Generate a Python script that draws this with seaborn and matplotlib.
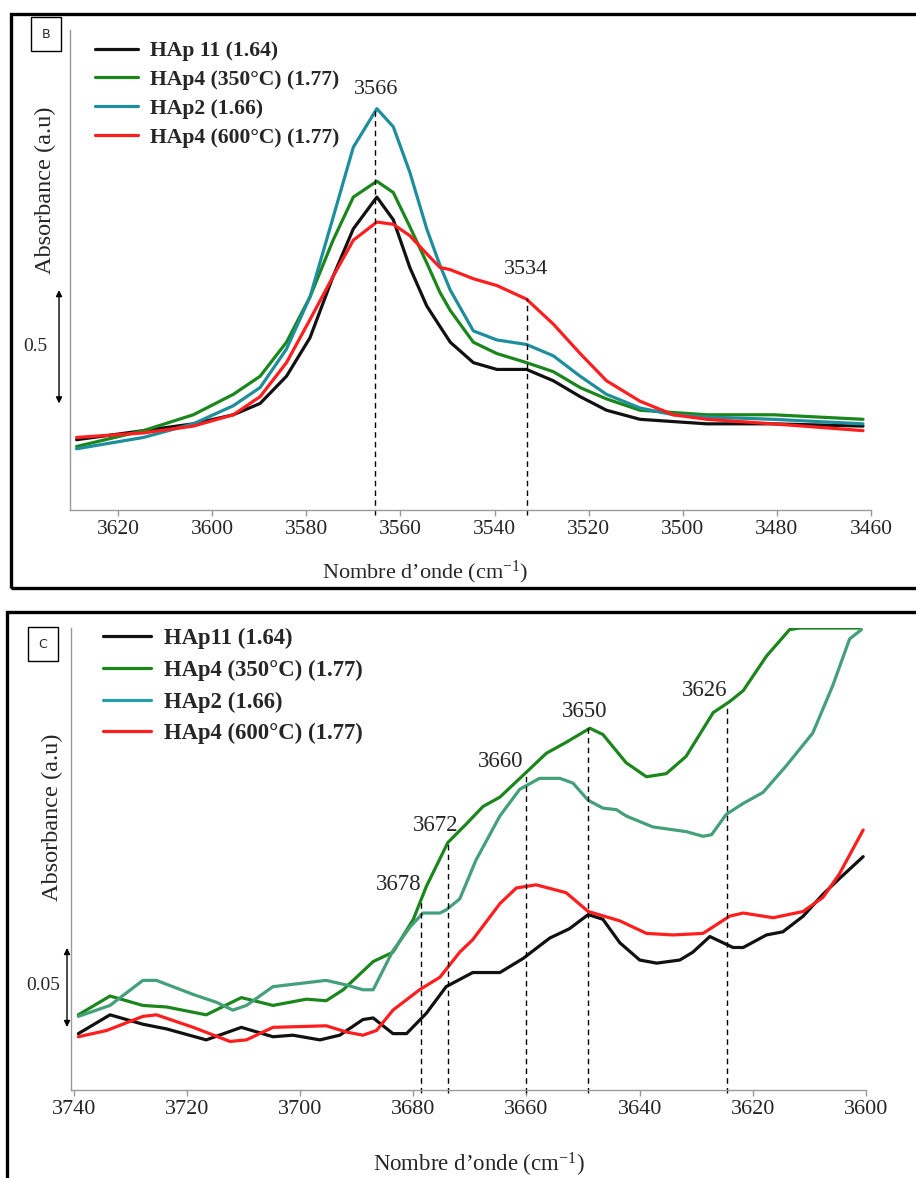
import matplotlib
matplotlib.use("Agg")
import pandas as pd
import seaborn as sns
import matplotlib.pyplot as plt
from matplotlib.lines import Line2D
from matplotlib.patches import Rectangle

# ---------------- panel B data (O-H stretching region) ----------------
wn_b = [3628.8, 3614.6, 3604.0, 3595.5, 3589.8, 3584.2, 3579.2, 3574.3, 3570.0,
        3565.0, 3561.5, 3558.0, 3554.4, 3551.6, 3549.4, 3544.5, 3539.5, 3533.2,
        3527.5, 3521.8, 3516.2, 3509.1, 3502.0, 3494.9, 3480.8, 3461.7]
b_hap11 = [0.31, 0.35, 0.38, 0.42, 0.47, 0.59, 0.76, 1.03, 1.24, 1.38, 1.28, 1.07, 0.90,
           0.81, 0.74, 0.65, 0.62, 0.62, 0.57, 0.50, 0.44, 0.40, 0.39, 0.38, 0.38, 0.37]
b_hap4_350 = [0.28, 0.35, 0.42, 0.51, 0.59, 0.74, 0.94, 1.19, 1.38, 1.45, 1.40, 1.25, 1.09,
              0.96, 0.88, 0.74, 0.69, 0.65, 0.61, 0.54, 0.49, 0.44, 0.43, 0.42, 0.42, 0.40]
b_hap2 = [0.27, 0.32, 0.38, 0.46, 0.54, 0.71, 0.94, 1.29, 1.60, 1.77, 1.69, 1.49, 1.24,
          1.08, 0.97, 0.79, 0.75, 0.73, 0.68, 0.59, 0.51, 0.45, 0.42, 0.41, 0.40, 0.38]
b_hap4_600 = [0.32, 0.34, 0.37, 0.42, 0.50, 0.65, 0.84, 1.03, 1.19, 1.27, 1.26, 1.21, 1.13,
              1.07, 1.06, 1.02, 0.99, 0.93, 0.82, 0.69, 0.57, 0.48, 0.42, 0.40, 0.38, 0.35]
b_ticks = [3620, 3600, 3580, 3560, 3540, 3520, 3500, 3480, 3460]
b_marks = [3565.4, 3533.0]
b_mark_tops = [1.77, 0.935]
b_mark_labels = ['3566', '3534']
b_lab_x = [3565.2, 3533.2]
b_lab_y = [1.855, 1.061]

# ---------------- panel C data ----------------
c_hap11_wn = [3739.2, 3733.6, 3727.8, 3723.6, 3716.6, 3710.4, 3704.8, 3701.3, 3696.5, 3693.0,
              3688.9, 3687.1, 3683.6, 3681.2, 3677.7, 3674.2, 3669.5, 3664.7, 3660.6,
              3655.9, 3652.4, 3649.1, 3646.5, 3643.5, 3640.0, 3637.0, 3632.9, 3630.6, 3627.6,
              3623.5, 3621.7, 3617.6, 3614.7, 3611.1, 3607.6, 3604.7, 3600.5]
c_hap11 = [0.036, 0.048, 0.042, 0.039, 0.032, 0.040, 0.034, 0.035, 0.032, 0.035,
           0.045, 0.046, 0.036, 0.036, 0.049, 0.066, 0.075, 0.075, 0.084,
           0.097, 0.103, 0.112, 0.109, 0.094, 0.083, 0.081, 0.083, 0.088, 0.098,
           0.091, 0.091, 0.099, 0.101, 0.111, 0.125, 0.135, 0.149]
c_hap4_350_wn = [3739.2, 3733.6, 3727.8, 3723.6, 3716.6, 3710.4, 3704.8, 3698.9, 3695.4, 3692.4,
                 3687.1, 3683.6, 3680.0, 3677.7, 3673.9, 3670.6, 3667.7, 3664.7, 3660.0,
                 3656.5, 3653.0, 3648.8, 3646.5, 3642.4, 3638.8, 3635.3, 3631.8, 3627.0,
                 3624.1, 3621.7, 3617.6, 3613.5, 3611.7, 3601.1]
c_hap4_350 = [0.048, 0.060, 0.054, 0.053, 0.048, 0.059, 0.054, 0.058, 0.057, 0.064,
              0.082, 0.088, 0.109, 0.130, 0.158, 0.170, 0.181, 0.187, 0.203,
              0.215, 0.222, 0.231, 0.227, 0.209, 0.200, 0.202, 0.213, 0.241,
              0.248, 0.255, 0.277, 0.294, 0.295, 0.295]
c_hap2_wn = [3739.2, 3733.6, 3727.8, 3725.4, 3718.9, 3714.8, 3711.9, 3709.5, 3704.8, 3695.4,
             3691.8, 3688.9, 3687.1, 3683.6, 3680.6, 3678.3, 3675.3, 3674.2, 3671.8, 3668.9,
             3664.7, 3661.2, 3657.7, 3654.1, 3651.8, 3649.1, 3646.5, 3644.1, 3642.4, 3637.7,
             3631.8, 3628.8, 3627.3, 3624.7, 3621.7, 3618.2, 3614.1, 3609.4, 3605.9, 3602.9,
             3600.8]
c_hap2 = [0.047, 0.054, 0.070, 0.070, 0.061, 0.056, 0.051, 0.054, 0.066, 0.070,
          0.067, 0.064, 0.064, 0.089, 0.104, 0.113, 0.113, 0.115, 0.122, 0.147,
          0.175, 0.192, 0.199, 0.199, 0.196, 0.185, 0.180, 0.179, 0.175, 0.168,
          0.165, 0.162, 0.163, 0.176, 0.183, 0.190, 0.207, 0.228, 0.258, 0.288,
          0.294]
c_hap4_600_wn = [3739.2, 3734.2, 3727.8, 3725.4, 3718.9, 3712.4, 3709.5, 3704.8, 3695.4, 3691.8,
                 3688.9, 3686.5, 3683.6, 3678.9, 3675.3, 3671.8, 3669.5, 3664.7, 3661.8,
                 3658.3, 3653.0, 3649.1, 3643.5, 3638.8, 3634.1, 3628.8, 3624.1, 3621.7,
                 3616.4, 3611.1, 3607.6, 3604.7, 3600.5]
c_hap4_600 = [0.034, 0.038, 0.047, 0.048, 0.040, 0.031, 0.032, 0.040, 0.041, 0.037,
              0.035, 0.038, 0.051, 0.064, 0.072, 0.088, 0.096, 0.119, 0.129,
              0.131, 0.126, 0.114, 0.108, 0.100, 0.099, 0.100, 0.111, 0.113,
              0.110, 0.114, 0.123, 0.138, 0.166]
c_ticks = [3740, 3720, 3700, 3680, 3660, 3640, 3620, 3600]
c_marks = [3678.7, 3673.9, 3660.0, 3649.2, 3624.5]
c_mark_tops = [0.121, 0.158, 0.203, 0.231, 0.245]
c_mark_labels = ['3678', '3672', '3660', '3650', '3626']
c_lab_x = [3682.6, 3676.0, 3664.5, 3649.7, 3628.5]
c_lab_y = [0.131, 0.169, 0.2096, 0.2416, 0.2554]

names_b = ['HAp 11 (1.64)', 'HAp4 (350°C) (1.77)', 'HAp2 (1.66)', 'HAp4 (600°C) (1.77)']
names_c = ['HAp11 (1.64)', 'HAp4 (350°C) (1.77)', 'HAp2 (1.66)', 'HAp4 (600°C) (1.77)']

sns.set_style("white")
plt.rcParams['font.family'] = ['Liberation Serif', 'DejaVu Serif']
plt.rcParams['mathtext.fontset'] = 'custom'
plt.rcParams['mathtext.rm'] = 'Liberation Serif'

W, H = 916, 1178


def fx(px):
    return px / W


def fy(py):
    return 1 - py / H


def long_df(series):
    frames = []
    for name, wn, vals in series:
        frames.append(pd.DataFrame({'wn': wn, 'A': vals, 'sample': name}))
    return pd.concat(frames, ignore_index=True)


def style_axis(ax, xlim, ylim, ticks, fs):
    ax.set_xlim(*xlim)
    ax.set_ylim(*ylim)
    ax.set_xticks(ticks)
    ax.set_xticklabels([str(t) for t in ticks])
    ax.set_yticks([])
    ax.set_xlabel('')
    ax.set_ylabel('')
    for s in ['top', 'right']:
        ax.spines[s].set_visible(False)
    for s in ['left', 'bottom']:
        ax.spines[s].set_color('#9a9a9a')
        ax.spines[s].set_linewidth(1.0)
    ax.tick_params(axis='x', direction='out', length=4.5, width=1, color='#9a9a9a',
                   labelsize=fs, pad=3, bottom=True)
    ax.patch.set_alpha(0)


fig = plt.figure(figsize=(W / 100, H / 100), dpi=100)

# outer frames
fig.add_artist(Rectangle((fx(11), fy(588)), 1.2, fy(14) - fy(588), transform=fig.transFigure,
                         fill=False, ec='black', lw=2.4))
fig.add_artist(Rectangle((fx(7), fy(1200)), 1.2, fy(612) - fy(1200), transform=fig.transFigure,
                         fill=False, ec='black', lw=2.4))

# ---------------- panel B ----------------
axb = fig.add_axes([fx(70), fy(510), fx(871) - fx(70), fy(30) - fy(510)])
df_b = long_df([(names_b[0], wn_b, b_hap11), (names_b[1], wn_b, b_hap4_350),
                (names_b[2], wn_b, b_hap2), (names_b[3], wn_b, b_hap4_600)])
pal_b = {names_b[0]: '#111111', names_b[1]: '#1b861b', names_b[2]: '#1f8e9c', names_b[3]: '#ff1e1e'}
sns.lineplot(data=df_b, x='wn', y='A', hue='sample', hue_order=names_b, palette=pal_b,
             estimator=None, lw=2.3, legend=False, ax=axb)
style_axis(axb, (3630.2, 3460), (0, 2.117), b_ticks, 15.5)
axb.vlines(b_marks, -0.022, b_mark_tops, colors='black', linestyles=(0, (4, 3)), lw=1,
           clip_on=False)
for lx, ly, t in zip(b_lab_x, b_lab_y, b_mark_labels):
    axb.text(lx, ly, t, ha='center', va='center', fontsize=16)

hb = [Line2D([0], [0], color=pal_b[n], lw=2.3) for n in names_b]
axb.legend(hb, names_b, loc='upper left', bbox_to_anchor=(fx(95), fy(41)),
           bbox_transform=fig.transFigure, frameon=False, borderaxespad=0, borderpad=0,
           handlelength=2.0, handletextpad=0.55, labelspacing=0.4,
           prop={'family': 'Liberation Serif', 'weight': 'bold', 'size': 15.6})

axb.annotate('', xy=(-0.0137, 0.97), xytext=(-0.0137, 0.47),
             xycoords=('axes fraction', 'data'), textcoords=('axes fraction', 'data'),
             arrowprops=dict(arrowstyle='<|-|>', color='black', lw=1, mutation_scale=9,
                             shrinkA=0, shrinkB=0), annotation_clip=False)
axb.text(-0.0437, 0.72, '0.5', transform=axb.get_yaxis_transform(), ha='center', va='center',
         fontsize=14)

fig.text(fx(45), fy(190), 'Absorbance (a.u)', rotation=90, ha='center', va='center', fontsize=17.5)
fig.text(fx(425), fy(572), 'Nombre d\u2019onde (cm$\\mathregular{^{-1}}$)', ha='center',
         va='center', fontsize=16)
fig.text(fx(46), fy(34), 'B', ha='center', va='center', fontsize=9, family='DejaVu Sans',
         bbox=dict(boxstyle='square,pad=0.85', fc='white', ec='black', lw=1))

# ---------------- panel C ----------------
axc = fig.add_axes([fx(71), fy(1090), fx(866) - fx(71), fy(628) - fy(1090)])
df_c = long_df([(names_c[0], c_hap11_wn, c_hap11), (names_c[1], c_hap4_350_wn, c_hap4_350),
                (names_c[2], c_hap2_wn, c_hap2), (names_c[3], c_hap4_600_wn, c_hap4_600)])
pal_c = {names_c[0]: '#111111', names_c[1]: '#1b861b', names_c[2]: '#44a07a', names_c[3]: '#ff1e1e'}
sns.lineplot(data=df_c, x='wn', y='A', hue='sample', hue_order=names_c, palette=pal_c,
             estimator=None, lw=2.3, legend=False, ax=axc)
style_axis(axc, (3740.5, 3600), (0, 0.295), c_ticks, 16)
axc.vlines(c_marks, -0.002, c_mark_tops, colors='black', linestyles=(0, (4, 3)), lw=1,
           clip_on=False)
for lx, ly, t in zip(c_lab_x, c_lab_y, c_mark_labels):
    axc.text(lx, ly, t, ha='center', va='center', fontsize=16.5)

legend_cols_c = ['#111111', '#1b861b', '#2a9ea8', '#ff1e1e']
hc = [Line2D([0], [0], color=c, lw=2.3) for c in legend_cols_c]
axc.legend(hc, names_c, loc='upper left', bbox_to_anchor=(fx(103), fy(628)),
           bbox_transform=fig.transFigure, frameon=False, borderaxespad=0, borderpad=0,
           handlelength=2.1, handletextpad=0.6, labelspacing=0.46,
           prop={'family': 'Liberation Serif', 'weight': 'bold', 'size': 16.4})

axc.annotate('', xy=(-0.005, 0.0907), xytext=(-0.005, 0.0402),
             xycoords=('axes fraction', 'data'), textcoords=('axes fraction', 'data'),
             arrowprops=dict(arrowstyle='<|-|>', color='black', lw=1, mutation_scale=9,
                             shrinkA=0, shrinkB=0), annotation_clip=False)
axc.text(-0.035, 0.067, '0.05', transform=axc.get_yaxis_transform(), ha='center', va='center',
         fontsize=14)

fig.text(fx(52), fy(817), 'Absorbance (a.u)', rotation=90, ha='center', va='center', fontsize=17.5)
fig.text(fx(479), fy(1165), 'Nombre d\u2019onde (cm$\\mathregular{^{-1}}$)', ha='center',
         va='center', fontsize=16.5)
fig.text(fx(43), fy(644), 'C', ha='center', va='center', fontsize=9, family='DejaVu Sans',
         bbox=dict(boxstyle='square,pad=0.85', fc='white', ec='black', lw=1))

fig.savefig('out.png', dpi=100)
